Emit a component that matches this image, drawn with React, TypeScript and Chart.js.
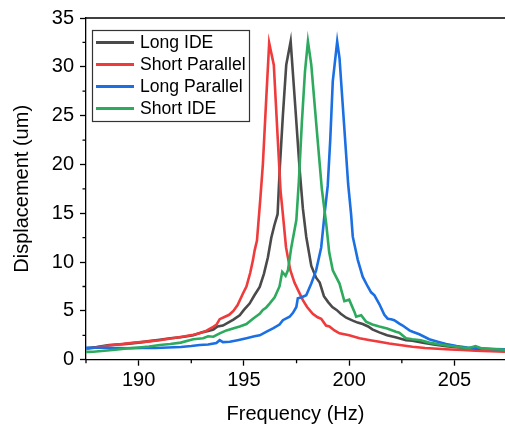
import React, { useEffect, useRef } from "react";
import { Chart, registerables } from "chart.js";

Chart.register(...registerables);

const seriesNames = ["Long IDE", "Short Parallel", "Long Parallel", "Short IDE"];
const seriesColors = ["#4a4a4a", "#ef3b3b", "#1b6fe2", "#2eaa5f"];

const freqLongIDE = [187.5, 188.0, 188.6, 189.3, 190.0, 190.5, 191.0, 191.5, 192.0, 192.6, 193.0, 193.3, 193.55, 193.75, 194.0, 194.25, 194.5, 194.8, 195.0, 195.27, 195.5, 195.75, 195.95, 196.14, 196.3, 196.45, 196.6, 196.7, 196.85, 197.01, 197.22, 197.45, 197.65, 197.8, 197.96, 198.2, 198.43, 198.6, 198.8, 199.0, 199.2, 199.4, 199.6, 199.86, 200.17, 200.4, 200.64, 200.9, 201.1, 201.43, 201.8, 202.2, 202.7, 203.0, 203.5, 204.0, 204.6, 205.2, 205.8, 206.5, 207.4];
const dispLongIDE = [1.16, 1.3, 1.5, 1.6, 1.75, 1.9, 2.05, 2.2, 2.3, 2.5, 2.8, 2.95, 3.1, 3.4, 3.5, 3.8, 4.1, 4.55, 5.1, 5.75, 6.6, 7.45, 8.8, 10.5, 12.5, 13.8, 14.9, 19.5, 25.0, 30.2, 32.6, 25.6, 19.4, 15.5, 12.6, 9.6, 8.4, 7.9, 6.5, 5.9, 5.4, 5.1, 4.7, 4.3, 4.0, 3.8, 3.65, 3.4, 3.1, 2.8, 2.5, 2.3, 2.0, 1.95, 1.75, 1.55, 1.38, 1.25, 1.15, 1.08, 1.0];

const freqShortParallel = [187.5, 188.0, 188.6, 189.2, 189.8, 190.4, 191.0, 191.6, 192.2, 192.6, 192.9, 193.2, 193.5, 193.7, 193.85, 194.1, 194.3, 194.5, 194.7, 194.96, 195.12, 195.3, 195.43, 195.51, 195.62, 195.78, 195.9, 196.05, 196.2, 196.42, 196.6, 196.74, 196.85, 197.0, 197.2, 197.4, 197.6, 197.8, 198.0, 198.27, 198.5, 198.67, 198.9, 199.06, 199.3, 199.54, 200.0, 200.49, 201.0, 201.43, 201.9, 202.4, 203.0, 203.6, 204.2, 204.8, 205.4, 206.0, 206.7, 207.4];
const dispShortParallel = [1.1, 1.25, 1.45, 1.6, 1.75, 1.85, 2.0, 2.2, 2.4, 2.55, 2.7, 2.95, 3.3, 3.6, 4.15, 4.4, 4.6, 5.0, 5.6, 6.8, 7.5, 8.9, 10.2, 11.2, 12.2, 16.5, 20.0, 26.3, 32.45, 30.2, 22.9, 17.3, 14.9, 11.5, 9.2, 7.9, 7.0, 6.1, 5.4, 4.7, 4.35, 4.2, 3.5, 3.4, 3.0, 2.7, 2.5, 2.2, 2.0, 1.84, 1.65, 1.5, 1.33, 1.2, 1.12, 1.05, 1.0, 0.92, 0.87, 0.82];

const freqLongParallel = [187.5, 188.2, 189.0, 189.6, 190.2, 190.8, 191.4, 192.0, 192.5, 192.9, 193.3, 193.69, 193.85, 194.0, 194.33, 194.7, 195.12, 195.5, 195.75, 196.1, 196.38, 196.69, 196.85, 197.17, 197.33, 197.49, 197.56, 197.75, 197.96, 198.2, 198.43, 198.67, 198.83, 198.98, 199.1, 199.22, 199.43, 199.54, 199.76, 199.95, 200.09, 200.17, 200.41, 200.64, 200.88, 201.04, 201.2, 201.43, 201.67, 201.83, 201.99, 202.14, 202.38, 202.54, 202.86, 203.01, 203.33, 203.8, 204.2, 204.6, 205.1, 205.6, 206.17, 206.8, 207.4];
const dispLongParallel = [1.22, 1.22, 1.2, 1.18, 1.2, 1.2, 1.25, 1.3, 1.4, 1.5, 1.55, 1.7, 2.0, 1.8, 1.84, 2.0, 2.2, 2.4, 2.5, 2.9, 3.2, 3.6, 4.05, 4.4, 4.8, 5.4, 6.3, 6.4, 6.6, 7.8, 9.15, 11.5, 14.9, 17.8, 22.5, 28.5, 32.6, 30.9, 24.0, 18.0, 14.9, 12.6, 10.2, 8.5, 7.5, 6.9, 6.6, 5.7, 4.6, 4.2, 4.15, 4.05, 3.7, 3.5, 3.0, 2.86, 2.6, 2.1, 1.85, 1.6, 1.4, 1.25, 1.16, 1.1, 1.06];

const freqShortIDE = [187.5, 187.85, 188.5, 189.0, 189.43, 190.0, 190.5, 191.0, 191.5, 192.0, 192.59, 193.06, 193.3, 193.55, 193.85, 194.17, 194.48, 194.8, 195.12, 195.43, 195.59, 195.75, 195.9, 196.06, 196.22, 196.46, 196.69, 196.82, 196.98, 197.09, 197.25, 197.49, 197.61, 197.75, 197.9, 198.04, 198.2, 198.45, 198.7, 198.91, 199.05, 199.22, 199.54, 199.77, 200.0, 200.25, 200.33, 200.57, 200.8, 201.1, 201.43, 201.8, 202.22, 202.38, 202.7, 203.0, 203.4, 203.8, 204.3, 204.8, 205.38, 205.7, 206.0, 206.3, 206.8, 207.4];
const dispShortIDE = [0.8, 0.82, 0.95, 1.05, 1.16, 1.25, 1.35, 1.5, 1.6, 1.75, 2.1, 2.2, 2.4, 2.35, 2.7, 3.0, 3.2, 3.4, 3.65, 4.2, 4.45, 4.7, 5.1, 5.35, 5.75, 6.4, 7.5, 9.0, 8.6, 9.15, 11.5, 14.3, 18.3, 24.2, 29.5, 32.6, 30.2, 23.8, 17.5, 13.9, 11.0, 9.15, 7.8, 6.0, 6.15, 4.9, 4.4, 4.56, 3.9, 3.6, 3.4, 3.2, 2.86, 2.76, 2.2, 2.1, 2.0, 1.75, 1.55, 1.4, 1.25, 1.2, 1.4, 1.15, 1.1, 1.02];

const xMajorTicks = [190, 195, 200, 205];
const xMinorTicks = [187.5, 192.5, 197.5, 202.5];
const yMinorTicks = [2.5, 7.5, 12.5, 17.5, 22.5, 27.5, 32.5];

const FONT = "Arial, 'Liberation Sans', sans-serif";

export default function App() {
  const ref = useRef<HTMLCanvasElement | null>(null);

  useEffect(() => {
    document.body.style.margin = "0";
    const canvas = ref.current;
    if (!canvas) return;

    const freqs = [freqLongIDE, freqShortParallel, freqLongParallel, freqShortIDE];
    const disps = [dispLongIDE, dispShortParallel, dispLongParallel, dispShortIDE];
    const orders = [4, 3, 2, 1];

    const datasets = seriesNames.map((name, i) => ({
      label: name,
      data: freqs[i].map((f, j) => ({ x: f, y: disps[i][j] })),
      borderColor: seriesColors[i],
      backgroundColor: seriesColors[i],
      borderWidth: 2.6,
      pointRadius: 0,
      tension: 0,
      order: orders[i],
    }));

    const framePlugin = {
      id: "frameAndLegend",
      afterDatasetsDraw(chart: any) {
        const { ctx, chartArea } = chart;
        const xs = chart.scales.x;
        const ys = chart.scales.y;
        ctx.save();
        ctx.strokeStyle = "#000";
        ctx.lineWidth = 1.3;
        ctx.beginPath();
        ctx.moveTo(chartArea.left, chartArea.top);
        ctx.lineTo(chartArea.right, chartArea.top);
        ctx.stroke();
        ctx.beginPath();
        xMinorTicks.forEach((v) => {
          const px = xs.getPixelForValue(v);
          ctx.moveTo(px, chartArea.bottom);
          ctx.lineTo(px, chartArea.bottom + 3.5);
        });
        yMinorTicks.forEach((v) => {
          const py = ys.getPixelForValue(v);
          ctx.moveTo(chartArea.left, py);
          ctx.lineTo(chartArea.left - 3.5, py);
        });
        ctx.stroke();

        const bx = 92, by = 30, bw = 157, bh = 91;
        ctx.fillStyle = "#fff";
        ctx.fillRect(bx, by, bw, bh);
        ctx.strokeStyle = "#333";
        ctx.lineWidth = 1.2;
        ctx.strokeRect(bx + 0.5, by + 0.5, bw, bh);
        ctx.font = `17.6px ${FONT}`;
        ctx.textBaseline = "middle";
        ctx.textAlign = "left";
        chart.data.datasets.forEach((ds: any, i: number) => {
          const yy = by + 12.5 + i * 22;
          ctx.strokeStyle = ds.borderColor;
          ctx.lineWidth = 3;
          ctx.beginPath();
          ctx.moveTo(96, yy);
          ctx.lineTo(134, yy);
          ctx.stroke();
          ctx.fillStyle = "#000";
          ctx.fillText(ds.label, 140, yy + 1);
        });
        ctx.restore();
      },
    };

    const chart = new Chart(canvas, {
      type: "line",
      data: { datasets },
      options: {
        animation: false,
        responsive: false,
        maintainAspectRatio: false,
        layout: { padding: { top: 16.7, right: 0, left: 0, bottom: 0 } },
        plugins: { legend: { display: false }, tooltip: { enabled: false } },
        scales: {
          x: {
            type: "linear",
            min: 187.5,
            max: 207.4,
            afterBuildTicks: (scale: any) => {
              scale.ticks = xMajorTicks.map((v) => ({ value: v }));
            },
            afterFit: (scale: any) => {
              scale.height = 70.3;
            },
            grid: {
              drawOnChartArea: false,
              drawTicks: true,
              tickLength: 6,
              tickColor: "#000",
              tickWidth: 1.3,
            },
            border: { display: true, color: "#000", width: 1.3 },
            ticks: {
              color: "#000",
              font: { family: FONT, size: 20 },
              padding: 3,
              maxRotation: 0,
              autoSkip: false,
            },
            title: {
              display: true,
              text: "Frequency (Hz)",
              color: "#000",
              font: { family: FONT, size: 20 },
              padding: { top: 0, bottom: 4 },
            },
          },
          y: {
            type: "linear",
            min: 0,
            max: 35,
            ticks: {
              stepSize: 5,
              color: "#000",
              font: { family: FONT, size: 20 },
              padding: 6,
            },
            afterFit: (scale: any) => {
              scale.width = 86;
            },
            grid: {
              drawOnChartArea: false,
              drawTicks: true,
              tickLength: 6,
              tickColor: "#000",
              tickWidth: 1.3,
            },
            border: { display: true, color: "#000", width: 1.3 },
            title: {
              display: true,
              text: "Displacement (um)",
              color: "#000",
              font: { family: FONT, size: 20 },
              padding: { top: 10, bottom: 0 },
            },
          },
        },
      },
      plugins: [framePlugin],
    } as any);

    return () => chart.destroy();
  }, []);

  return (
    <div style={{ width: 505, height: 430, position: "relative" }}>
      <canvas ref={ref} width={505} height={430} style={{ width: 505, height: 430, display: "block" }} />
    </div>
  );
}
